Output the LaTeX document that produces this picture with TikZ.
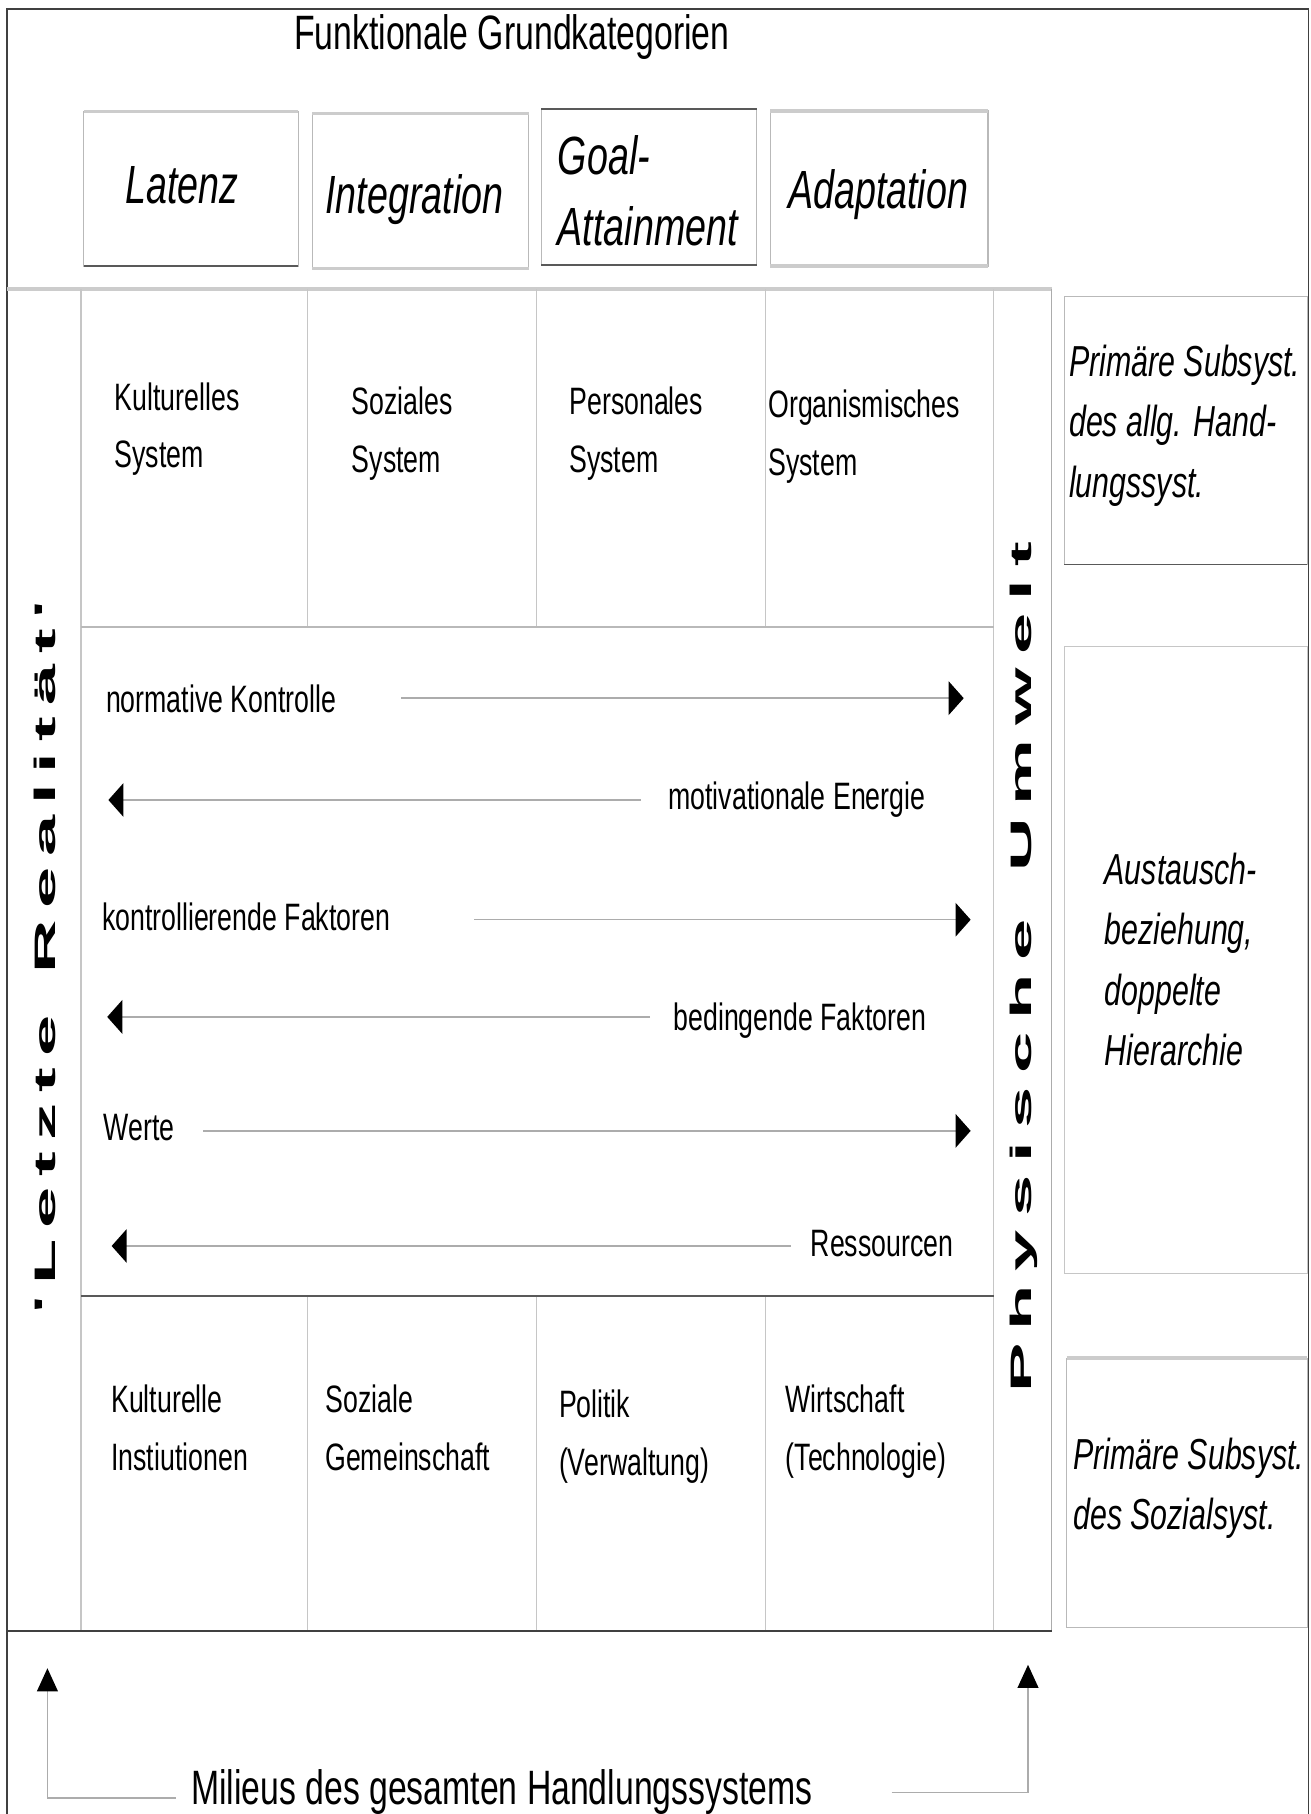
\documentclass[tikz,border=0pt]{standalone}
\usepackage{graphicx}
\usepackage{fontspec}
\setmainfont{Liberation Sans}
\newfontfamily\cond[FakeStretch=0.7]{Liberation Sans}
\newfontfamily\plainsans{Liberation Sans}
\usetikzlibrary{arrows.meta}
\newcommand\stk[1]{\begin{tabular}[t]{@{}l@{}}#1\end{tabular}}

\begin{document}
\begin{tikzpicture}[x=1pt,y=-1pt,
  txt/.style={inner sep=0pt, anchor=base west, font=\cond\fontsize{33}{50}\selectfont},
  side/.style={txt, font=\cond\itshape\fontsize{37.5}{52}\selectfont},
  head/.style={txt, font=\cond\itshape\fontsize{46.5}{61}\selectfont},
  big/.style={txt, font=\cond\fontsize{41.7}{50}\selectfont},
  vert/.style={inner sep=0pt, anchor=base, rotate=90, font=\plainsans\bfseries\fontsize{64}{64}\selectfont},
  frame/.style={draw=black!75, line width=1.5pt},
  softrule/.style={draw=gray!45, line width=0.9pt},
  heavyrule/.style={draw=gray!40, line width=3pt},
  darkrule/.style={draw=black!65, line width=1.6pt},
  boxline/.style={draw=gray!55, line width=1pt},
  flow/.style={draw=gray!65, line width=1.3pt, -{Triangle[length=13pt,width=29pt,color=black]}},
  rise/.style={draw=gray!65, line width=1.3pt, -{Triangle[length=20pt,width=18pt,color=black]}},
]
\useasboundingbox (0,0) rectangle (1133,1568);

% outer frame (open at the bottom edge of the page)
\draw[frame] (6,1580) -- (6,8) -- (1131,8) -- (1131,1580);

% heading
\node[big] (title) at (254,43) {Funktionale Grundkategorien};

% four functional categories
\draw[boxline] (72.4,96.5) rectangle (258,230);
\draw[heavyrule] (72.4,96.5) -- (258,96.5);
\draw[darkrule] (72.4,230) -- (258,230);
\draw[boxline] (270,98) rectangle (457,232);
\draw[heavyrule] (270,98) -- (457,98);
\draw[heavyrule] (270,232) -- (457,232);
\draw[boxline] (468,94) rectangle (654,229);
\draw[darkrule] (468,94) -- (654,94);
\draw[darkrule] (468,229) -- (654,229);
\draw[boxline] (666,96) rectangle (854,230);
\draw[heavyrule] (666,96) -- (854,96);
\draw[heavyrule] (666,230) -- (854,230);

\node[head] (latenz) at (108,176) {Latenz};
\node[head] (integration) at (281,184.5) {Integration};
\node[head] (goal) at (482,151) {\stk{Goal-\\Attainment}};
\node[head] (adaptation) at (681,180) {Adaptation};

% main grid
\draw[heavyrule] (6,250) -- (909,250);
\foreach \x in {70,859} \draw[softrule] (\x,250) -- (\x,1410);
\foreach \x in {266,464,662} {
  \draw[softrule] (\x,250) -- (\x,542);
  \draw[softrule] (\x,1120) -- (\x,1410);
}
\draw[draw=gray!65, line width=1pt] (909,250) -- (909,1410);
\draw[draw=gray!55, line width=1pt] (70,542) -- (859,542);
\draw[darkrule] (70,1120) -- (859,1120);
\draw[frame] (6,1410) -- (909,1410);

% subsystems of the general action system
\node[txt] (kultur) at (99,354.4) {\stk{Kulturelles\\System}};
\node[txt] (sozial) at (304,358.7) {\stk{Soziales\\System}};
\node[txt] (person) at (492,358.7) {\stk{Personales\\System}};
\node[txt] (organ) at (664,361) {\stk{Organismisches\\System}};

% subsystems of the social system
\node[txt] (kinst) at (96,1221) {\stk{Kulturelle\\Instiutionen}};
\node[txt] (gemein) at (281,1221) {\stk{Soziale\\Gemeinschaft}};
\node[txt] (politik) at (483,1225.6) {\stk{Politik\\(Verwaltung)}};
\node[txt] (wirt) at (679,1221) {\stk{Wirtschaft\\(Technologie)}};

% exchange flows
\node[txt] (normk) at (91.5,615.5) {normative Kontrolle};
\node[txt] (motiv) at (577.5,700) {motivationale Energie};
\node[txt] (kontf) at (88,804) {kontrollierende Faktoren};
\node[txt] (bedf) at (582,891) {bedingende Faktoren};
\node[txt] (werte) at (89.5,985.5) {Werte};
\node[txt] (ress) at (700.6,1086) {Ressourcen};

\coordinate (f1a) at (347,603.5);   \coordinate (f1b) at (833,603.5);
\coordinate (f2a) at (553.7,691.5); \coordinate (f2b) at (93.7,691.5);
\coordinate (f3a) at (410,795);     \coordinate (f3b) at (839,795);
\coordinate (f4a) at (562,879);     \coordinate (f4b) at (92.7,879);
\coordinate (f5a) at (175.7,977.5); \coordinate (f5b) at (839,977.5);
\coordinate (f6a) at (683.7,1077);  \coordinate (f6b) at (96.5,1077);
\foreach \i in {1,...,6} \draw[flow] (f\i a) -- (f\i b);

% boundary labels
\node[vert] (letzte) at (48,827) {\scalebox{1}[0.4]{\makebox[616pt][s]{\char39\hfill L\hfill e\hfill t\hfill z\hfill t\hfill e\hfill\ \hfill R\hfill e\hfill a\hfill l\hfill i\hfill t\hfill ä\hfill t\hfill\char39}}};
\node[vert] (umwelt) at (892,836) {\scalebox{1}[0.4]{\makebox[736pt][s]{P\hfill h\hfill y\hfill s\hfill i\hfill s\hfill c\hfill h\hfill e\hfill\ \hfill U\hfill m\hfill w\hfill e\hfill l\hfill t}}};

% side notes
\draw[boxline] (920,256) rectangle (1130,488);
\draw[darkrule] (920,488) -- (1130,488);
\node[side] (note1) at (924,325.6) {\stk{Primäre Subsyst.\\des allg. Hand-\\lungssyst.}};
\draw[draw=gray!45, line width=1pt] (920,559) rectangle (1130,1101);
\node[side] (note2) at (954.7,764.8) {\stk{Austausch-\\beziehung,\\doppelte\\Hierarchie}};
\draw[boxline] (922,1174) rectangle (1130,1407);
\draw[heavyrule] (922,1174) -- (1130,1174);
\node[side] (note3) at (927.5,1270) {\stk{Primäre Subsyst.\\des Sozialsyst.}};

% environments of the whole action system
\node[big] (milieu) at (165,1560) {Milieus des gesamten Handlungssystems};
\coordinate (mlA) at (152,1554);   \coordinate (mlB) at (41,1554);   \coordinate (mlC) at (41,1442);
\coordinate (mrA) at (770.6,1549.5); \coordinate (mrB) at (888.6,1549.5); \coordinate (mrC) at (888.6,1439);
\draw[rise] (mlA) -- (mlB) -- (mlC);
\draw[rise] (mrA) -- (mrB) -- (mrC);
\end{tikzpicture}
\end{document}
